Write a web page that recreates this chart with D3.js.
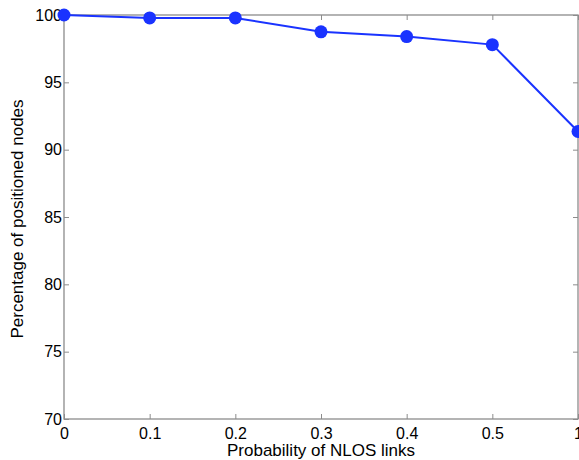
<!DOCTYPE html>
<html><head><meta charset="utf-8">
<script src="https://cdn.jsdelivr.net/npm/d3@7"></script>
<style>
html,body{margin:0;padding:0;background:#fff;overflow:hidden;}
svg{display:block;font-family:"Liberation Sans",Arial,Helvetica,sans-serif;}
</style></head>
<body>
<svg id="c" width="579" height="460"></svg>
<script>
const xValues = [0, 0.1, 0.2, 0.3, 0.4, 0.5, 0.6];
const xTickLabels = ["0", "0.1", "0.2", "0.3", "0.4", "0.5", "1"];
const percentPositioned = [100, 99.78, 99.78, 98.75, 98.4, 97.8, 91.35];
const yTicks = [70, 75, 80, 85, 90, 95, 100];

const svg = d3.select("#c");
const m = {l: 64, r: 578, t: 15, b: 419};
const x = d3.scaleLinear().domain([0, 0.6]).range([m.l, m.r]);
const y = d3.scaleLinear().domain([70, 100]).range([m.b, m.t]);
const axisColor = "#8c8c8c";
const tl = 5;

svg.append("rect").attr("x", m.l).attr("y", m.t).attr("width", m.r - m.l).attr("height", m.b - m.t)
  .attr("fill", "none").attr("stroke", axisColor).attr("stroke-width", 1.3);

const xAxis = d3.axisBottom(x).tickValues(xValues).tickFormat((d, i) => xTickLabels[i]).tickSize(-tl).tickPadding(9);
const gx = svg.append("g").attr("transform", `translate(0,${m.b})`).call(xAxis);
gx.select(".domain").remove();
gx.selectAll("line").attr("stroke", axisColor);
gx.selectAll("text").attr("font-size", 16).attr("fill", "#000").attr("font-family", "Liberation Sans, Arial, sans-serif");

const gxt = svg.append("g").attr("transform", `translate(0,${m.t})`).call(d3.axisTop(x).tickValues(xValues).tickSize(-tl).tickFormat(""));
gxt.select(".domain").remove();
gxt.selectAll("line").attr("stroke", axisColor);

const yAxis = d3.axisLeft(y).tickValues(yTicks).tickSize(-tl).tickPadding(2);
const gy = svg.append("g").attr("transform", `translate(${m.l},0)`).call(yAxis);
gy.select(".domain").remove();
gy.selectAll("line").attr("stroke", axisColor);
gy.selectAll("text").attr("font-size", 16).attr("fill", "#000").attr("font-family", "Liberation Sans, Arial, sans-serif");

const gyr = svg.append("g").attr("transform", `translate(${m.r},0)`).call(d3.axisRight(y).tickValues(yTicks).tickSize(-tl).tickFormat(""));
gyr.select(".domain").remove();
gyr.selectAll("line").attr("stroke", axisColor);

const pts = xValues.map((v, i) => [v, percentPositioned[i]]);
svg.append("path").datum(pts)
  .attr("d", d3.line().x(d => x(d[0])).y(d => y(d[1])))
  .attr("fill", "none").attr("stroke", "#1a33ff").attr("stroke-width", 2);
svg.selectAll("circle.pt").data(pts).enter().append("circle").attr("class", "pt")
  .attr("cx", d => x(d[0])).attr("cy", d => y(d[1])).attr("r", 6.5).attr("fill", "#1a33ff");

svg.append("text").attr("x", 321).attr("y", 456).attr("text-anchor", "middle")
  .attr("font-size", 17).text("Probability of NLOS links");
svg.append("text").attr("transform", "translate(23,219) rotate(-90)").attr("text-anchor", "middle")
  .attr("font-size", 17).text("Percentage of positioned nodes");
</script>
</body></html>
